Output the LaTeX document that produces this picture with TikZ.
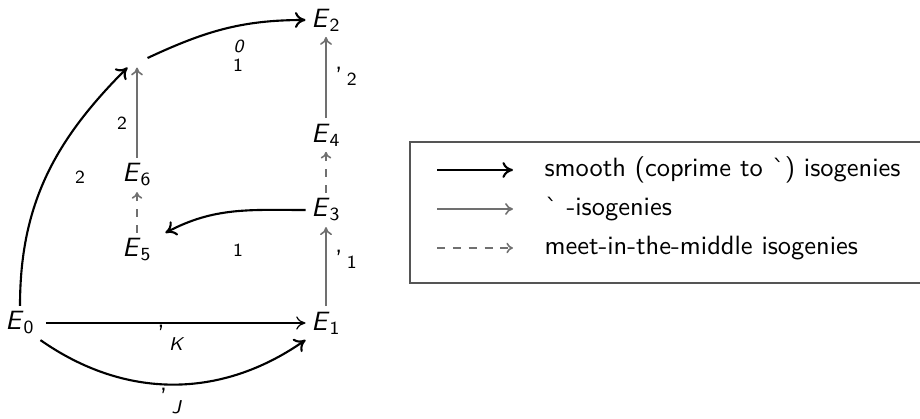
\documentclass[tikz,border=0pt]{standalone}
\usetikzlibrary{arrows.meta}
\renewcommand{\familydefault}{\sfdefault}
\definecolor{lgray}{HTML}{707070}
\definecolor{bgray}{HTML}{555555}
\newcommand{\Ev}[1]{\textsl{E}\textsubscript{#1}}
\begin{document}
\begin{tikzpicture}[x=0.378pt,y=-0.378pt,
  curve/.style={line width=0.8pt,-{To[length=4pt,width=6pt]}},
  plainarr/.style={line width=0.45pt,-{To[length=3.5pt,width=5pt]}},
  grayarr/.style={line width=0.6pt,lgray,-{To[length=3pt,width=4.5pt]}},
  dasharr/.style={line width=0.6pt,lgray,dashed,dash pattern=on 3pt off 3pt,-{To[length=2.5pt,width=4pt]}},
  obj/.style={inner sep=2pt},
  lab/.style={font=\scriptsize,inner sep=0pt}]
\useasboundingbox (0,0) rectangle (920,419);
% objects
\node[obj] (E0) at (20,323) {\Ev{0}};
\node[obj] (E1) at (326,323) {\Ev{1}};
\node[obj] (E3) at (326,210) {\Ev{3}};
\node[obj] (E4) at (326,135) {\Ev{4}};
\node[obj] (E2) at (326,20) {\Ev{2}};
\node[obj] (E6) at (137,175) {\Ev{6}};
\node[obj] (E5) at (137,250) {\Ev{5}};
\node[inner sep=0pt,minimum width=7.6pt,minimum height=6.8pt] (T) at (137,58) {};
% connectors
\draw[plainarr] ([xshift=2pt]E0.east) -- (E1);
\draw[curve] (E0.south east) to[out=-35,in=215] (E1.south west);
\draw[curve] (E0.north) to[out=90,in=225] (T);
\draw[curve] (T.east) to[out=25,in=180] (E2.west);
\draw[grayarr] (E1) -- (E3);
\draw[dasharr] (E3) -- (E4);
\draw[grayarr] (E4) -- (E2);
\draw[curve] (E3.west) to[out=180,in=28] ([xshift=3pt]E5.north east);
\draw[dasharr] (E5) -- (E6);
\draw[grayarr] (E6) -- (T);
% labels
\node[lab] (l1) at (80,177) {2};
\node[lab] (l2) at (122,123) {2};
\node[lab] (l3a) at (239,46) {\textsl{0}};
\node[lab] (l3b) at (238,65) {1};
\node[lab] (l4) at (346,76) {\normalsize'\,\scriptsize 2};
\node[lab] (l5) at (346,259) {\normalsize'\,\scriptsize 1};
\node[lab] (l6) at (238,250) {1};
\node[lab] (l7) at (171,338) {\normalsize'\,\scriptsize\raisebox{-2.5pt}{\textsl{K}}};
\node[lab] (l8) at (171,401) {\normalsize'\,\scriptsize\raisebox{-2.5pt}{\textsl{J}}};
% legend
\draw[bgray,line width=0.5pt] (410,142) rectangle (930,283);
\coordinate (a1) at (437,170); \coordinate (b1) at (513,170);
\coordinate (a2) at (437,209); \coordinate (b2) at (513,209);
\coordinate (a3) at (437,248); \coordinate (b3) at (513,248);
\draw[curve] (a1) -- (b1);
\draw[grayarr] (a2) -- (b2);
\draw[dasharr] (a3) -- (b3);
\node[anchor=west,inner sep=0pt] (t1) at (544,170) {smooth (coprime to \textasciigrave) isogenies};
\node[anchor=west,inner sep=0pt] (t2) at (544,209) {\textasciigrave\ -isogenies};
\node[anchor=west,inner sep=0pt] (t3) at (544,248) {meet-in-the-middle isogenies};
\end{tikzpicture}
\end{document}
